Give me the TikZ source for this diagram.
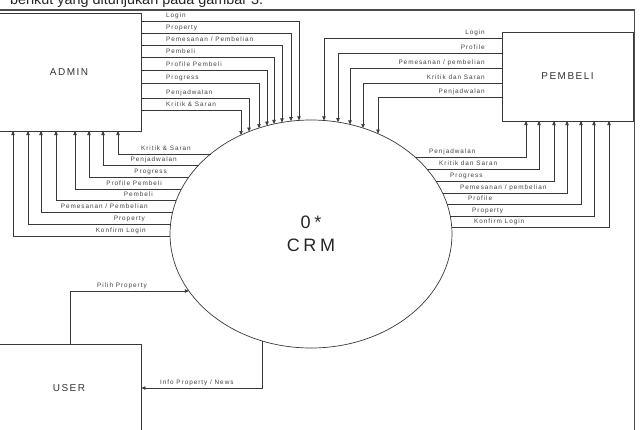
\documentclass[tikz,border=0pt]{standalone}
\usepackage{fontspec}
\setmainfont{Liberation Sans}
\newfontfamily\trackfont[LetterSpace=15]{Liberation Sans}
\newfontfamily\bigtrackfont[LetterSpace=20]{Liberation Sans}
\usetikzlibrary{arrows.meta,shapes.geometric}

\tikzset{
  ink/.style={draw=black!78},
  flow/.style={ink, line width=0.7pt, -{Triangle[length=4pt,width=3.4pt]}},
  plain/.style={ink, line width=0.7pt},
  box/.style={ink, line width=0.8pt, rectangle, inner sep=0pt,
    font=\trackfont\fontsize{10}{12}\selectfont, text=black!80},
  lbl/.style={inner sep=0pt, font=\trackfont\fontsize{6.4}{7}\selectfont, text=black!75},
  frame/.style={draw=black!70, line width=1.2pt},
  declare function={
    etop(\x)=234-114*sqrt(1-((\x-311)/141)*((\x-311)/141));
    ebot(\x)=234+114*sqrt(1-((\x-311)/141)*((\x-311)/141));
    eleft(\y)=311-141*sqrt(1-((\y-234)/114)*((\y-234)/114));
    eright(\y)=311+141*sqrt(1-((\y-234)/114)*((\y-234)/114));
  }
}

% ADMIN -> CRM : y, x of drop, label
\newcommand\adminOut[3]{%
  \coordinate (ao#1) at (admin.east |- {(0,#1)});
  \coordinate (ai#1) at ({#2},{etop(#2)});
  \draw[flow] (ao#1) -| (ai#1);
  \node[lbl,anchor=base west] (aol#1) at (166,#1-3.5) {#3};}
% CRM -> ADMIN : y, x of rise, label, label right end
\newcommand\adminIn[4]{%
  \coordinate (ci#1) at ({eleft(#1)},#1);
  \coordinate (ab#1) at (#2,131);
  \draw[flow] (ci#1) -| (ab#1);
  \node[lbl,anchor=base east] (ail#1) at (#4,#1-3.5) {#3};}
% PEMBELI -> CRM : y, x of drop, label
\newcommand\pembeliOut[3]{%
  \coordinate (po#1) at (pembeli.west |- {(0,#1)});
  \coordinate (pi#1) at ({#2},{etop(#2)});
  \draw[flow] (po#1) -| (pi#1);
  \node[lbl,anchor=base east] (pol#1) at (485,#1-3.5) {#3};}
% CRM -> PEMBELI : y, x of rise, label, label left start
\newcommand\pembeliIn[4]{%
  \coordinate (cr#1) at ({eright(#1)},#1);
  \coordinate (pb#1) at (#2,121);
  \draw[flow] (cr#1) -| (pb#1);
  \node[lbl,anchor=base west] (pil#1) at (#4,#1-3.5) {#3};}

\begin{document}
\begin{tikzpicture}[x=1pt,y=-1pt]
\useasboundingbox (0,0) rectangle (640,429);
\clip (0,0) rectangle (640,429);

% caption text cut by the top edge
\node[anchor=base west, inner sep=0pt, font=\fontsize{14.4}{16}\selectfont, text=black!85]
  (caption) at (10,4.5) {berikut yang ditunjukan pada gambar 3.};

% outer frame
\draw[frame] (-5,10) -- (634.5,10) -- (634.5,440);

% entities
\node[box, minimum width=144, minimum height=118] (admin) at (69,72) {ADMIN};
\node[box, minimum width=131, minimum height=89] (pembeli) at (567.5,76.5) {PEMBELI};
\node[box, minimum width=144, minimum height=88] (user) at (69,388) {USER};

% process
\node[ellipse, ink, line width=0.7pt, minimum width=282, minimum height=228, inner sep=0pt,
  align=center, font=\bigtrackfont\fontsize{18}{23}\selectfont, text=black!85]
  (crm) at (311,234) {0*\\CRM};

% ADMIN -> CRM
\adminOut{21}{299}{Login}
\adminOut{33}{291}{Property}
\adminOut{45}{282}{Pemesanan / Pembelian}
\adminOut{57}{274}{Pembeli}
\adminOut{70}{267}{Profile Pembeli}
\adminOut{83}{259}{Progress}
\adminOut{98}{249}{Penjadwalan}
\adminOut{110}{241}{Kritik \& Saran}

% CRM -> ADMIN
\adminIn{154}{118}{Kritik \& Saran}{191}
\adminIn{165}{103}{Penjadwalan}{177}
\adminIn{177}{89}{Progress}{167}
\adminIn{189}{75}{Profile Pembeli}{162}
\adminIn{200}{56}{Pembeli}{153}
\adminIn{212}{41}{Pemesanan / Pembelian}{148}
\adminIn{224}{28}{Property}{145}
\adminIn{236}{13}{Konfirm Login}{146}

% PEMBELI -> CRM
\pembeliOut{38}{324}{Login}
\pembeliOut{53}{338}{Profile}
\pembeliOut{68}{350}{Pemesanan / pembelian}
\pembeliOut{83}{363}{Kritik dan Saran}
\pembeliOut{97}{378}{Penjadwalan}

% CRM -> PEMBELI
\pembeliIn{157}{526}{Penjadwalan}{429}
\pembeliIn{169}{539}{Kritik dan Saran}{439}
\pembeliIn{181}{554}{Progress}{450}
\pembeliIn{193}{567}{Pemesanan / pembelian}{460}
\pembeliIn{204}{581}{Profile}{468}
\pembeliIn{216}{594}{Property}{472}
\pembeliIn{227}{609}{Konfirm Login}{474}

% USER <-> CRM
\coordinate (uo) at (user.north -| {(70,0)});
\coordinate (ui) at ({eleft(291)},291);
\draw[flow] (uo) |- (ui);
\node[lbl,anchor=base west] (pilih) at (97,287.5) {Pilih Property};

\coordinate (co) at (262,{ebot(262)});
\coordinate (un) at (user.east |- {(0,388)});
\draw[flow] (co) |- (un);
\node[lbl,anchor=base west] (info) at (160,384.5) {Info Property / News};
\end{tikzpicture}
\end{document}
